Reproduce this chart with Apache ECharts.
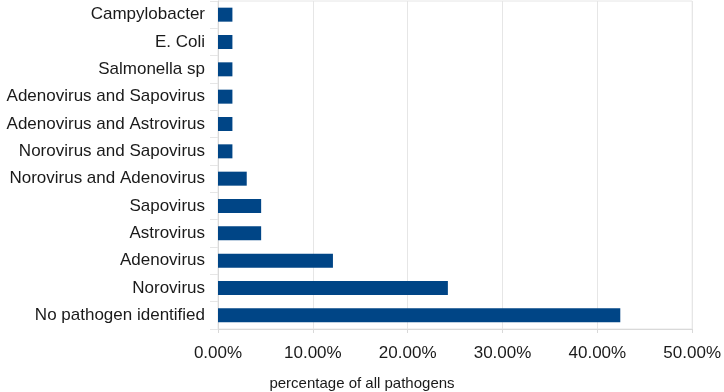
<!DOCTYPE html>
<html>
<head>
<meta charset="utf-8">
<script src="https://cdn.jsdelivr.net/npm/echarts@6/dist/echarts.min.js"></script>
<style>
  html, body { margin: 0; padding: 0; background: #fff; }
  #chart { width: 724px; height: 392px; }
</style>
</head>
<body>
<div id="chart"></div>
<script>
const categories = [
  'No pathogen identified',
  'Norovirus',
  'Adenovirus',
  'Astrovirus',
  'Sapovirus',
  'Norovirus and Adenovirus',
  'Norovirus and Sapovirus',
  'Adenovirus and Astrovirus',
  'Adenovirus and Sapovirus',
  'Salmonella sp',
  'E. Coli',
  'Campylobacter',
];
// share of all pathogens, in percent
const shares = [42.42, 24.24, 12.12, 4.55, 4.55, 3.03, 1.52, 1.52, 1.52, 1.52, 1.52, 1.52];
const xTicks = { min: 0, max: 50, interval: 10 };
const axisTitle = 'percentage of all pathogens';

const font = 'Liberation Sans';
const chart = echarts.init(document.getElementById('chart'));

chart.setOption({
  animation: false,
  // axis title is centred on the whole picture, not the plot
  title: {
    text: axisTitle,
    left: 'center',
    bottom: 1,
    padding: 0,
    textStyle: { fontFamily: font, fontSize: 15, fontWeight: 'normal', color: '#1a1a1a' },
  },
  grid: {
    top: 1,
    left: 218,
    right: 28,
    bottom: 63,
    containLabel: false,
    show: true,
    borderColor: '#e6e6e6',
    borderWidth: 1,
  },
  xAxis: {
    type: 'value',
    min: xTicks.min,
    max: xTicks.max,
    interval: xTicks.interval,
    axisLine: { show: true, lineStyle: { color: '#d9d9d9' } },
    axisTick: { show: true, length: 4, lineStyle: { color: '#d9d9d9' } },
    axisLabel: {
      fontFamily: font,
      fontSize: 17,
      color: '#1a1a1a',
      margin: 16,
      formatter: (v) => v.toFixed(2) + '%',
    },
    splitLine: { show: true, lineStyle: { color: '#e6e6e6' } },
  },
  yAxis: {
    type: 'category',
    data: categories,
    axisLine: { show: true, lineStyle: { color: '#d9d9d9' } },
    axisTick: { show: true, length: 8, lineStyle: { color: '#e6e6e6' } },
    axisLabel: { fontFamily: font, fontSize: 17, color: '#1a1a1a', margin: 13 },
    splitLine: { show: false },
  },
  series: [
    {
      type: 'bar',
      data: shares,
      barWidth: 14,
      itemStyle: { color: '#004586' },
    },
  ],
});
</script>
</body>
</html>
